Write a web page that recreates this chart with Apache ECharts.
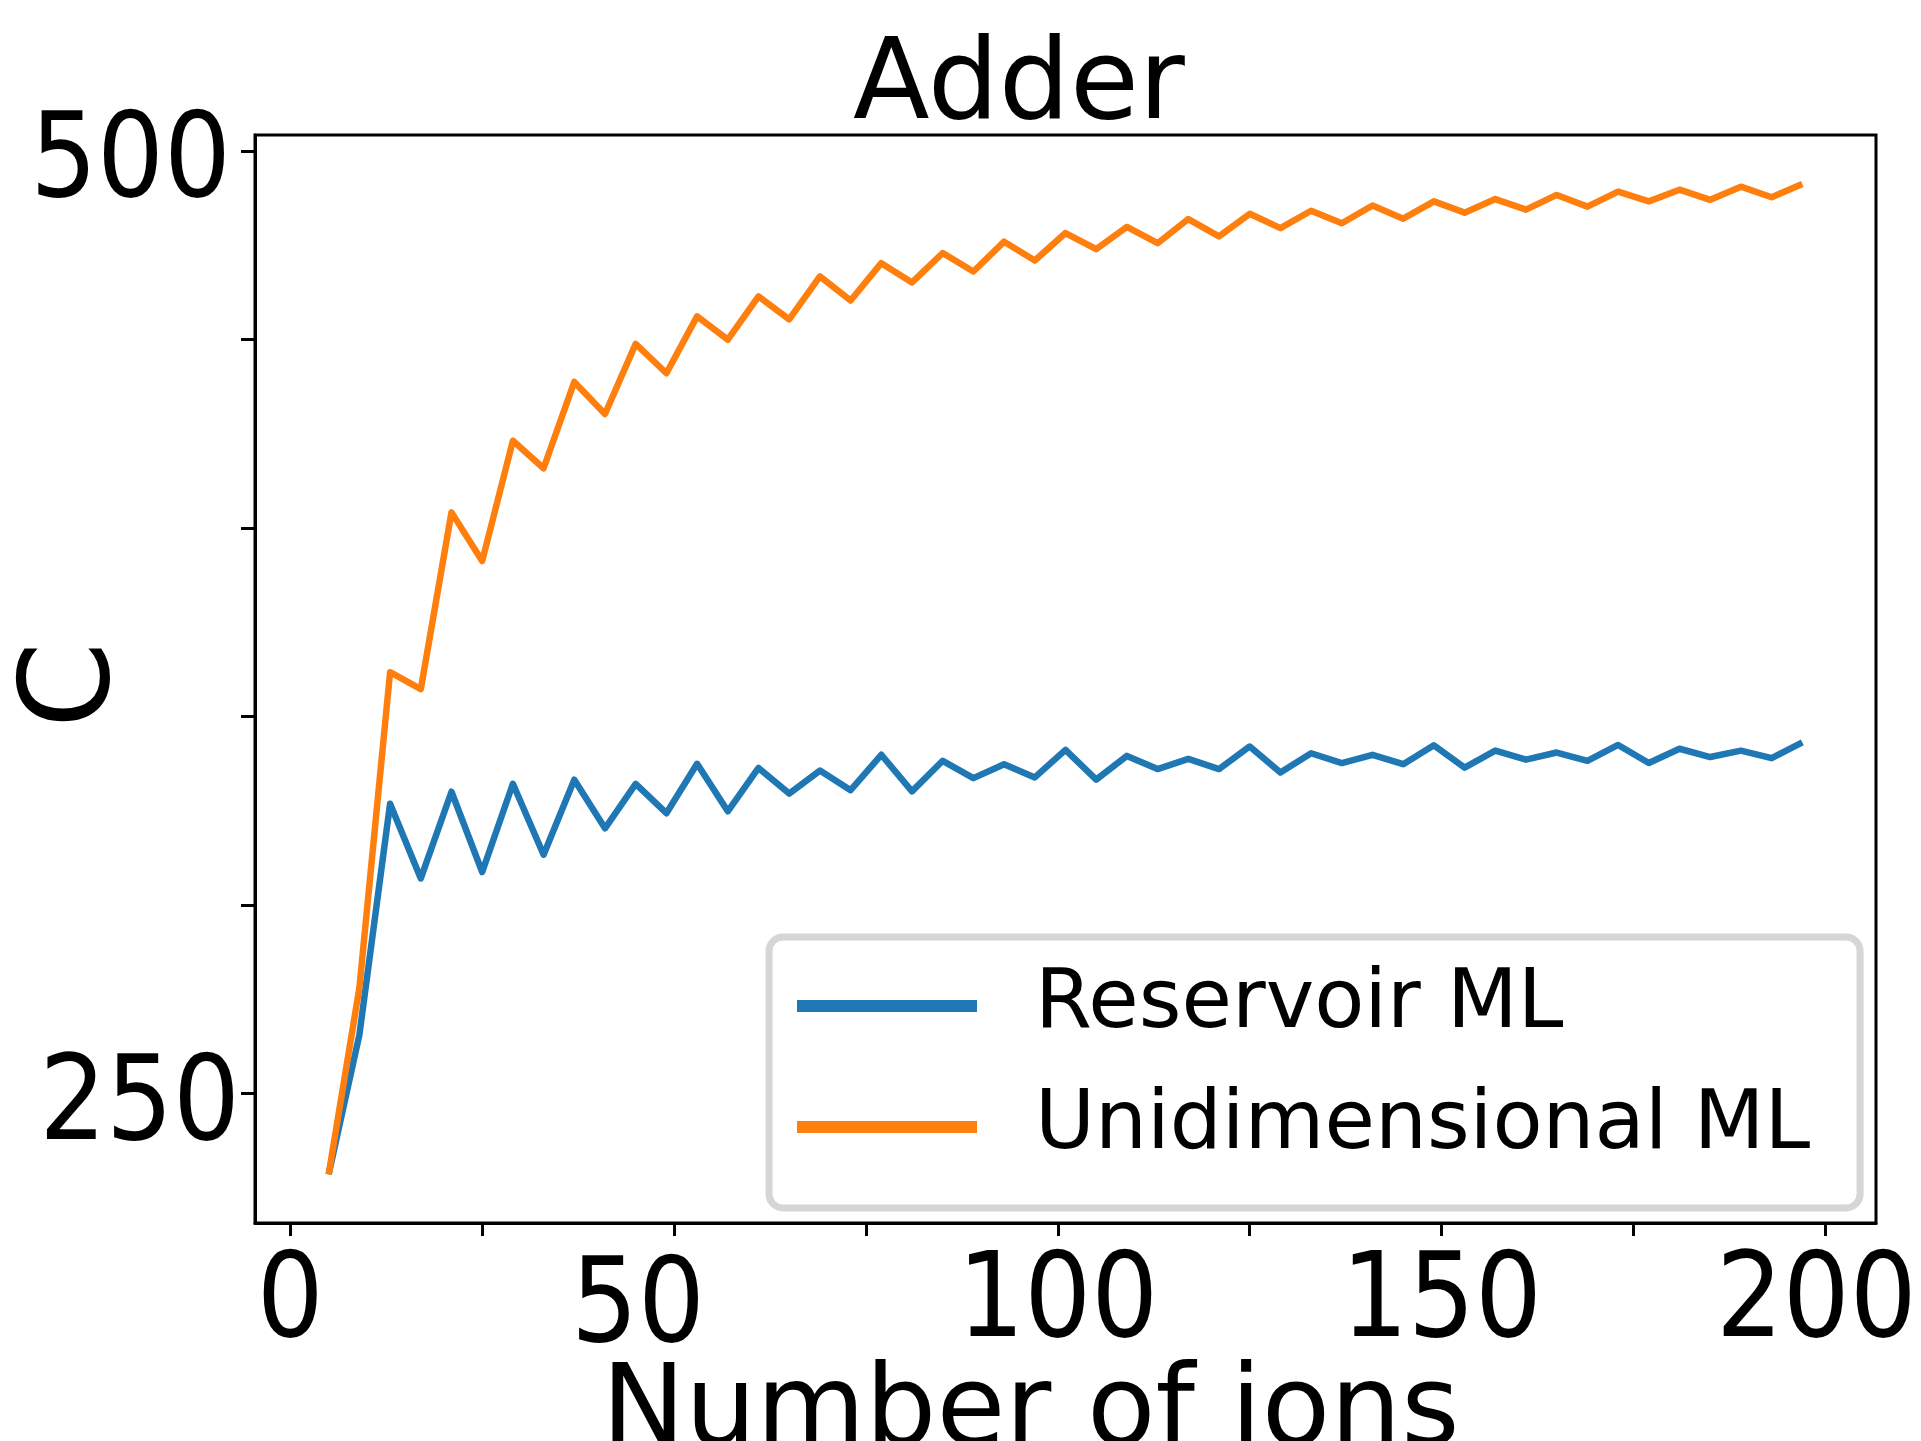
<!DOCTYPE html>
<html>
<head>
<meta charset="utf-8">
<title>Adder</title>
<script src="https://cdn.jsdelivr.net/npm/echarts@6/dist/echarts.min.js"></script>
<style>
    html, body { margin: 0; padding: 0; background: #fff; }
    #chart { width: 1921px; height: 1441px; }
</style>
</head>
<body>
<div id="chart"></div>
<script>
// number of ions (x)
var ions = [5, 9, 13, 17, 21, 25, 29, 33, 37, 41, 45, 49, 53, 57, 61, 65, 69, 73, 77, 81,
    85, 89, 93, 97, 101, 105, 109, 113, 117, 121, 125, 129, 133, 137, 141, 145, 149, 153, 157, 161,
    165, 169, 173, 177, 181, 185, 189, 193, 197];

// C values
var reservoirML = [228.5, 265.5, 326.8, 307, 330, 308.7, 332.1, 313.3, 333.2, 320.3,
    332.1, 324.3, 337.4, 324.8, 336.3, 329.5, 335.6, 330.4, 339.8, 330.1,
    338.2, 333.6, 337.3, 333.8, 341.1, 333.2, 339.5, 336, 338.7, 336,
    342, 335.1, 340.2, 337.6, 339.8, 337.3, 342.3, 336.4, 340.9, 338.5,
    340.4, 338.2, 342.4, 337.6, 341.4, 339.2, 340.9, 338.9, 343.1];

var unidimensionalML = [228.5, 278, 361.7, 357.2, 404.1, 391.2, 423.1, 415.8, 438.7, 430.2,
    448.8, 441, 456.1, 449.9, 461.4, 455.3, 466.7, 460.3, 470.2, 465.1,
    472.9, 468, 475.9, 470.9, 478.2, 473.9, 479.8, 475.5, 481.9, 477.3,
    483.3, 479.5, 484.1, 480.8, 485.5, 482, 486.6, 483.6, 487.2, 484.4,
    488.3, 485.2, 489.2, 486.6, 489.7, 487, 490.5, 487.7, 491.2];

var xTicks = [0, 25, 50, 75, 100, 125, 150, 175, 200];
var xTickLabels = [0, 50, 100, 150, 200];
var yTicks = [250, 300, 350, 400, 450, 500];
var yTickLabels = [250, 500];

var seriesNames = ["Reservoir ML", "Unidimensional ML"];

var tickFont = "'DejaVu Sans Condensed', 'DejaVu Sans', sans-serif";
var textFont = "'DejaVu Sans', sans-serif";

function pairs(xs, ys) {
    return xs.map(function (x, i) { return [x, ys[i]]; });
}

function tickToken(pad) {
    return { fontFamily: tickFont, fontSize: 117, lineHeight: 117, color: "#000", padding: pad };
}

var chart = echarts.init(document.getElementById("chart"), null, { renderer: "canvas" });

var option = {
    animation: false,
    backgroundColor: "#fff",
    color: ["#1f77b4", "#ff7f0e"],
    title: {
        text: "Adder",
        left: 1019,
        top: 33,
        textAlign: "center",
        padding: 0,
        textStyle: { fontFamily: textFont, fontSize: 112, fontWeight: "normal", color: "#000", lineHeight: 112 }
    },
    grid: {
        left: 255, right: 45, top: 135, bottom: 218,
        containLabel: false,
        outerBoundsMode: "none",
        show: true, borderColor: "#000", borderWidth: 3, backgroundColor: "#fff"
    },
    legend: {
        orient: "vertical",
        left: 769,
        top: 937,
        icon: "rect",
        itemWidth: 180,
        itemHeight: 12,
        itemGap: 15,
        padding: [16, 50, 28, 28],
        borderColor: "#d6d6d6",
        borderWidth: 7,
        borderRadius: 14,
        backgroundColor: "#fff",
        data: seriesNames,
        textStyle: { fontFamily: textFont, fontSize: 82, lineHeight: 82, color: "#000", padding: [24, 0, 0, 53] }
    },
    xAxis: {
        type: "value",
        min: -4.6,
        max: 206.6,
        name: "Number of ions",
        nameLocation: "middle",
        nameGap: 136,
        nameMoveOverlap: false,
        nameTextStyle: { fontFamily: textFont, fontSize: 112, color: "#000", lineHeight: 112, padding: [0, 70, 0, 0] },
        splitLine: { show: false },
        axisLine: { show: true, onZero: false, lineStyle: { color: "#000", width: 3 } },
        axisTick: { show: true, inside: false, length: 13, customValues: xTicks, lineStyle: { color: "#000", width: 3 } },
        axisLabel: {
            customValues: xTickLabels,
            margin: 24,
            fontFamily: tickFont, fontSize: 117, lineHeight: 117, color: "#000",
            formatter: function (v) {
                if (v === 50) return "{l|" + v + "}";
                if (v === 200) return "{r|" + v + "}";
                return "{n|" + v + "}";
            },
            rich: { n: tickToken(0), l: tickToken([10, 72, 0, 0]), r: tickToken([0, 18, 0, 0]) }
        }
    },
    yAxis: {
        type: "value",
        min: 215.6,
        max: 504.2,
        name: "C",
        nameLocation: "middle",
        nameRotate: 90,
        nameGap: 117,
        nameMoveOverlap: false,
        nameTextStyle: { fontFamily: textFont, fontSize: 124, color: "#000", lineHeight: 124, padding: [0, 12, 0, 0] },
        splitLine: { show: false },
        axisLine: { show: true, onZero: false, lineStyle: { color: "#000", width: 3 } },
        axisTick: { show: true, inside: false, length: 14, customValues: yTicks, lineStyle: { color: "#000", width: 3 } },
        axisLabel: {
            customValues: yTickLabels,
            margin: 15,
            padding: [30, 0, 0, 0],
            fontFamily: tickFont, fontSize: 117, lineHeight: 117, color: "#000",
            formatter: function (v) {
                return v === 500 ? "{t|" + v + "}" : "{b|" + v + "}";
            },
            rich: { t: tickToken([0, 9, 0, 0]), b: tickToken(0) }
        }
    },
    series: [
        {
            name: seriesNames[0],
            type: "line",
            showSymbol: false,
            data: pairs(ions, reservoirML),
            lineStyle: { width: 6.5, color: "#1f77b4", join: "round" }
        },
        {
            name: seriesNames[1],
            type: "line",
            showSymbol: false,
            data: pairs(ions, unidimensionalML),
            lineStyle: { width: 6.5, color: "#ff7f0e", join: "round" }
        }
    ]
};

chart.setOption(option);
</script>
</body>
</html>
